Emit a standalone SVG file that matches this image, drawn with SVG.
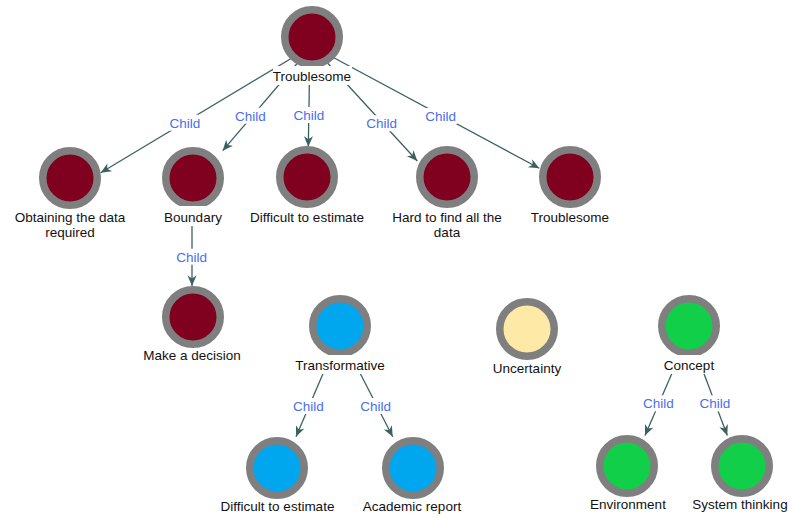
<svg xmlns="http://www.w3.org/2000/svg" width="792" height="518" viewBox="0 0 792 518">
  <style>
    .bg { fill: #ffffff; }
    .ring { stroke: #7f7f7f; stroke-width: 7.5; }
    .red { fill: #800020; }
    .blue { fill: #00a6ee; }
    .yellow { fill: #ffe9a6; }
    .green { fill: #12cf4a; }
    .label { font-family: "Liberation Sans", Arial, sans-serif; font-size: 13.5px; fill: #111111; text-anchor: middle; }
    .edge { stroke: #3b6262; stroke-width: 1.3; fill: none; marker-end: url(#arrow); }
    .elabel { font-family: "Liberation Sans", Arial, sans-serif; font-size: 13.5px; fill: #4a6ef0; text-anchor: middle; }
  </style>
  <defs>
    <marker id="arrow" markerUnits="userSpaceOnUse" markerWidth="12" markerHeight="10" viewBox="-11 -5 12 10" refX="0" refY="0" orient="auto">
      <path d="M0,0 L-10.5,-4.5 L-7.5,0 L-10.5,4.5 Z" fill="#3b6262"/>
    </marker>
  </defs>
  <rect x="0" y="0" width="792" height="518" fill="#ffffff"/>

  <!-- connectors: parent to child, with relation labels -->
  <g id="connectors">
    <line class="edge" x1="312" y1="46" x2="100.7" y2="172.7"/>
    <line class="edge" x1="312" y1="46" x2="222.7" y2="150.7"/>
    <line class="edge" x1="310" y1="46" x2="308.3" y2="146.7"/>
    <line class="edge" x1="312" y1="46" x2="417.3" y2="161"/>
    <line class="edge" x1="312" y1="46" x2="539.3" y2="168.3"/>
    <line class="edge" x1="192" y1="186" x2="192" y2="286"/>
    <line class="edge" x1="340" y1="334" x2="296" y2="436.7"/>
    <line class="edge" x1="340" y1="334" x2="392.7" y2="436.7"/>
    <line class="edge" x1="689" y1="334" x2="645" y2="435.5"/>
    <line class="edge" x1="689" y1="334" x2="727.3" y2="435.5"/>

    <rect class="bg" x="168.5" y="114.7" width="33" height="16"/>
    <text class="elabel" x="185" y="127.5">Child</text>
    <rect class="bg" x="234" y="107.7" width="33" height="16"/>
    <text class="elabel" x="250.5" y="120.5">Child</text>
    <rect class="bg" x="292.5" y="107" width="33" height="16"/>
    <text class="elabel" x="309" y="120">Child</text>
    <rect class="bg" x="365.2" y="115.3" width="33" height="16"/>
    <text class="elabel" x="381.7" y="128">Child</text>
    <rect class="bg" x="424.2" y="108" width="33" height="16"/>
    <text class="elabel" x="440.7" y="121">Child</text>
    <rect class="bg" x="175.2" y="248.7" width="33" height="16"/>
    <text class="elabel" x="191.7" y="261.5">Child</text>
    <rect class="bg" x="291.8" y="398" width="33" height="16"/>
    <text class="elabel" x="308.3" y="411">Child</text>
    <rect class="bg" x="359.2" y="398" width="33" height="16"/>
    <text class="elabel" x="375.7" y="411">Child</text>
    <rect class="bg" x="641.8" y="395.3" width="33" height="16"/>
    <text class="elabel" x="658.3" y="408">Child</text>
    <rect class="bg" x="698.5" y="395.3" width="33" height="16"/>
    <text class="elabel" x="715" y="408">Child</text>
  </g>

  <g id="troublesome-root">
    <circle class="ring red" cx="312" cy="37" r="27.25"/>
    <rect class="bg" x="273" y="66" width="79" height="19"/>
    <text class="label" x="312" y="81">Troublesome</text>
  </g>
  <g id="obtaining-data">
    <circle class="ring red" cx="70" cy="178" r="27.25"/>
    <text class="label" x="70" y="222">Obtaining the data</text>
    <text class="label" x="70" y="237">required</text>
  </g>
  <g id="boundary">
    <circle class="ring red" cx="193" cy="178" r="27.25"/>
    <rect class="bg" x="162" y="206" width="62" height="20"/>
    <text class="label" x="193" y="222">Boundary</text>
  </g>
  <g id="difficult-estimate-1">
    <circle class="ring red" cx="307" cy="177" r="27.25"/>
    <text class="label" x="307" y="222">Difficult to estimate</text>
  </g>
  <g id="hard-to-find">
    <circle class="ring red" cx="447" cy="177" r="27.25"/>
    <text class="label" x="447" y="222">Hard to find all the</text>
    <text class="label" x="447" y="237">data</text>
  </g>
  <g id="troublesome-child">
    <circle class="ring red" cx="570" cy="177" r="27.25"/>
    <text class="label" x="570" y="222">Troublesome</text>
  </g>
  <g id="make-decision">
    <circle class="ring red" cx="193" cy="317" r="27.25"/>
    <text class="label" x="192" y="360">Make a decision</text>
  </g>
  <g id="transformative">
    <circle class="ring blue" cx="340" cy="326" r="27.25"/>
    <rect class="bg" x="293" y="355" width="94" height="19"/>
    <text class="label" x="340" y="370">Transformative</text>
  </g>
  <g id="uncertainty">
    <circle class="ring yellow" cx="527" cy="329" r="27.25"/>
    <text class="label" x="527" y="373">Uncertainty</text>
  </g>
  <g id="concept">
    <circle class="ring green" cx="689" cy="326" r="27.25"/>
    <rect class="bg" x="661" y="355" width="56" height="19"/>
    <text class="label" x="689" y="370">Concept</text>
  </g>
  <g id="difficult-estimate-2">
    <circle class="ring blue" cx="277" cy="468" r="27.25"/>
    <text class="label" x="277.5" y="511">Difficult to estimate</text>
  </g>
  <g id="academic-report">
    <circle class="ring blue" cx="413" cy="468" r="27.25"/>
    <text class="label" x="412" y="511">Academic report</text>
  </g>
  <g id="environment">
    <circle class="ring green" cx="627" cy="466" r="27.25"/>
    <text class="label" x="628" y="509">Environment</text>
  </g>
  <g id="system-thinking">
    <circle class="ring green" cx="742" cy="466" r="27.25"/>
    <text class="label" x="740" y="509">System thinking</text>
  </g>
</svg>
